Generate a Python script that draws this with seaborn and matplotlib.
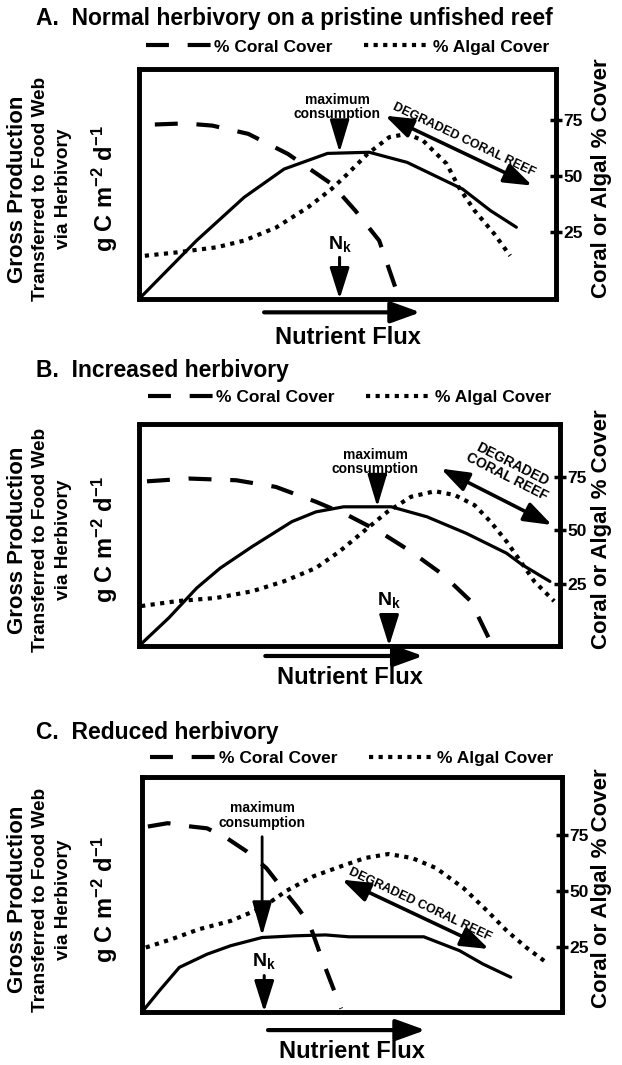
import matplotlib
matplotlib.use("Agg")
import numpy as np
import matplotlib.pyplot as plt
import seaborn as sns
from matplotlib.lines import Line2D

# values; x = nutrient flux (0-100 across the box)
# production on the left axis (0-100 = box bottom to top), cover in % on the right axis

# A. normal herbivory
a_prod_x = [0, 13.8, 25.2, 34.8, 45.2, 55.2, 64.3, 77.6, 84.3, 90.5]
a_prod_y = [0, 25.4, 44.2, 56.5, 63.3, 63.8, 59.4, 47.8, 38.4, 31.2]
a_coral_x = [3.8, 11.0, 17.6, 26.2, 35.7, 46.2, 51.9, 57.6, 62.4]
a_coral_y = [73.1, 73.6, 72.6, 68.9, 59.9, 46.4, 34.4, 21.0, -5.0]
a_algal_x = [1.4, 9.0, 18.6, 25.2, 32.9, 40.5, 46.2, 50.0, 54.8, 60.0, 64.3, 68.1, 73.8, 76.7, 80.5, 85.2, 89.0]
a_algal_y = [14.2, 15.7, 18.0, 21.0, 26.9, 35.9, 44.2, 50.9, 59.9, 67.4, 68.9, 65.9, 55.4, 44.9, 34.4, 24.0, 14.2]

# B. increased herbivory
b_prod_x = [0, 7.1, 13.7, 19.3, 26.9, 36.3, 42.0, 48.6, 59.9, 68.4, 77.8, 87.3, 91.0, 97.6]
b_prod_y = [0, 12.7, 26.1, 35.1, 44.8, 56.0, 60.4, 62.7, 62.7, 58.2, 50.7, 41.8, 36.6, 29.1]
b_coral_x = [1.9, 11.8, 23.1, 32.5, 42.0, 49.5, 57.1, 64.6, 72.2, 78.8, 84.0]
b_coral_y = [72.8, 74.1, 73.3, 70.2, 63.3, 57.1, 49.4, 40.1, 29.3, 17.0, -3.9]
b_algal_x = [0.5, 9.0, 18.4, 26.9, 34.4, 42.0, 47.6, 53.3, 59.0, 64.6, 70.3, 75.0, 79.7, 83.5, 87.3, 90.1, 93.9, 98.6]
b_algal_y = [14.7, 17.0, 18.5, 21.6, 26.2, 32.4, 40.1, 49.4, 58.6, 65.6, 68.2, 66.4, 61.7, 54.0, 44.8, 37.0, 26.2, 17.0]

# C. reduced herbivory
c_prod_x = [0, 4.2, 8.9, 15.5, 21.1, 28.6, 36.2, 43.7, 49.3, 60.6, 67.1, 75.6, 81.2, 87.8]
c_prod_y = [0, 9.2, 19.0, 24.6, 28.2, 31.7, 32.4, 32.8, 32.0, 32.0, 32.0, 26.1, 20.4, 14.8]
c_coral_x = [1.4, 6.1, 11.7, 15.5, 20.2, 24.9, 29.6, 33.3, 37.1, 39.9, 42.7, 47.4]
c_coral_y = [78.8, 80.3, 78.8, 78.0, 73.6, 67.7, 60.2, 51.3, 42.4, 35.0, 20.2, -2.8]
c_algal_x = [0.9, 7.0, 13.6, 21.1, 28.6, 34.3, 40.8, 47.4, 53.1, 58.7, 64.3, 70.0, 76.5, 82.2, 86.9, 91.5, 96.2]
c_algal_y = [24.6, 28.3, 32.8, 36.5, 42.4, 49.9, 56.5, 61.0, 64.7, 66.5, 64.7, 60.2, 51.3, 41.0, 32.0, 24.6, 18.0]

titles = ["A.  Normal herbivory on a pristine unfished reef",
          "B.  Increased herbivory",
          "C.  Reduced herbivory"]
cover_ticks = [25, 50, 75]
legend_labels = ["% Coral Cover", "% Algal Cover"]

sns.set_style("white")
plt.rcParams["font.family"] = ["Liberation Sans", "DejaVu Sans"]
plt.rcParams["text.color"] = "black"
plt.rcParams["axes.labelcolor"] = "black"
plt.rcParams["ytick.color"] = "black"
plt.rcParams["mathtext.fontset"] = "custom"
plt.rcParams["mathtext.rm"] = "Liberation Sans:bold"
plt.rcParams["mathtext.it"] = "Liberation Sans:bold"
plt.rcParams["mathtext.bf"] = "Liberation Sans:bold"

CORAL_LS = (0, (5.5, 4.5))
ALGAL_LS = (0, (1.0, 1.3))
FIG_H = 1065.0
FIG_W = 622.0


def draw_arrow(ax, start, end, style, hl, hw, lw):
    ax.annotate("", xy=end, xytext=start, annotation_clip=False,
                arrowprops=dict(arrowstyle=f"{style},head_length={hl},head_width={hw}",
                                color="black", lw=lw, shrinkA=0, shrinkB=0,
                                mutation_scale=1))


def disp_angle(ax, p0, p1):
    d0 = ax.transData.transform(p0)
    d1 = ax.transData.transform(p1)
    return np.degrees(np.arctan2(d1[1] - d0[1], d1[0] - d0[0]))


panels = [
    dict(box=(139, 69, 556, 299), cover_lim=(-5.2, 98.0),
         prod=(a_prod_x, a_prod_y), coral=(a_coral_x, a_coral_y), algal=(a_algal_x, a_algal_y),
         title=titles[0], title_y=18, legend_y=47,
         maxc_text=(47.6, 83.4), maxc_arrow=((48.1, 76.8), (48.1, 63.8)), maxc_hl=20,
         nk_x=48.1, nk_top=18.1, nk_text=23.9,
         deg=((59.0, 79.7), (94.3, 49.3)), deg_text="DEGRADED CORAL REEF", deg_off=9,
         deg_size=9, flux_y=-5.8, flux_text=-16.7),
    dict(box=(139, 424, 560, 646), cover_lim=(-3.9, 99.5),
         prod=(b_prod_x, b_prod_y), coral=(b_coral_x, b_coral_y), algal=(b_algal_x, b_algal_y),
         title=titles[1], title_y=370, legend_y=397,
         maxc_text=(56.1, 82.9), maxc_arrow=((56.6, 76.9), (56.6, 62.7)), maxc_hl=20,
         nk_x=59.4, nk_top=14.2, nk_text=20.9,
         deg=((71.7, 79.9), (98.1, 54.5)), deg_text="DEGRADED\nCORAL REEF", deg_off=21,
         deg_size=10, flux_y=-4.5, flux_text=-14.2),
    dict(box=(142, 777, 562, 1012), cover_lim=(-4.3, 101.0),
         prod=(c_prod_x, c_prod_y), coral=(c_coral_x, c_coral_y), algal=(c_algal_x, c_algal_y),
         title=titles[2], title_y=732, legend_y=758,
         maxc_text=(28.6, 83.5), maxc_arrow=((28.6, 74.6), (28.6, 32.4)), maxc_hl=21,
         nk_x=29.1, nk_top=15.5, nk_text=21.8,
         deg=((47.6, 56.3), (82.6, 26.8)), deg_text="DEGRADED CORAL REEF", deg_off=8,
         deg_size=9, flux_y=-7.7, flux_text=-16.9),
]

fig = plt.figure(figsize=(6.22, 10.65), dpi=100)

for p in panels:
    x0, y0, x1, y1 = p["box"]
    rect = [x0 / FIG_W, 1 - y1 / FIG_H, (x1 - x0) / FIG_W, (y1 - y0) / FIG_H]
    ax = fig.add_axes(rect)
    ax2 = ax.twinx()

    sns.lineplot(x=p["prod"][0], y=p["prod"][1], ax=ax, color="black", lw=2.3,
                 estimator=None, sort=False)
    sns.lineplot(x=p["coral"][0], y=p["coral"][1], ax=ax2, color="black", lw=3,
                 linestyle=CORAL_LS, estimator=None, sort=False)
    sns.lineplot(x=p["algal"][0], y=p["algal"][1], ax=ax2, color="black", lw=3,
                 linestyle=ALGAL_LS, estimator=None, sort=False)

    ax.set_xlim(0, 100)
    ax.set_ylim(0, 100)
    ax2.set_ylim(*p["cover_lim"])
    ax.set_xticks([])
    ax.set_yticks([])
    ax2.set_yticks(cover_ticks)
    ax2.tick_params(axis="y", direction="inout", length=9, width=2.5, pad=1,
                    labelsize=12.5, colors="black")
    for t in ax2.get_yticklabels():
        t.set_fontweight("bold")
    for a in (ax, ax2):
        a.set_xlabel("")
        a.set_ylabel("")
        for s in a.spines.values():
            s.set_linewidth(3.3)
            s.set_color("black")

    # legend above the box
    handles = [Line2D([], [], color="black", lw=3, linestyle=CORAL_LS),
               Line2D([], [], color="black", lw=3, linestyle=ALGAL_LS)]
    leg_y = (y1 - p["legend_y"]) / (y1 - y0)
    ax.legend(handles, legend_labels, ncol=2, loc="center", bbox_to_anchor=(0.5, leg_y),
              frameon=False, handlelength=3.8, handletextpad=0.15, columnspacing=1.8,
              prop=dict(weight="bold", size=12.5))

    # maximum consumption
    ax.text(*p["maxc_text"], "maximum\nconsumption", ha="center", va="center",
            fontsize=10, fontweight="bold", linespacing=1.05)
    draw_arrow(ax, p["maxc_arrow"][0], p["maxc_arrow"][1], "-|>", p["maxc_hl"], 6, 2)

    # N_k
    ax.text(p["nk_x"], p["nk_text"], r"N$_{\mathregular{k}}$", ha="center", va="center",
            fontsize=14, fontweight="bold")
    draw_arrow(ax, (p["nk_x"], p["nk_top"]), (p["nk_x"], 0), "-|>", 19, 6, 2.2)

    # degraded coral reef
    (dx0, dy0), (dx1, dy1) = p["deg"]
    draw_arrow(ax, (dx0, dy0), (dx1, dy1), "<|-|>", 17, 6, 2.6)
    ang = disp_angle(ax, (dx0, dy0), (dx1, dy1))
    th = np.radians(ang)
    off = p["deg_off"]
    ax.annotate(p["deg_text"], xy=((dx0 + dx1) / 2, (dy0 + dy1) / 2),
                xytext=(-off * np.sin(th), off * np.cos(th)), textcoords="offset points",
                rotation=ang, rotation_mode="anchor", ha="center", va="center",
                fontsize=p["deg_size"], fontweight="bold", linespacing=1.0,
                annotation_clip=False)

    # nutrient flux
    draw_arrow(ax, (30.0, p["flux_y"]), (67.5, p["flux_y"]), "-|>", 18, 6.5, 3)
    ax.text(50, p["flux_text"], "Nutrient Flux", ha="center", va="center",
            fontsize=17, fontweight="bold", clip_on=False)

    # titles and axis labels
    fig.text(36 / FIG_W, 1 - p["title_y"] / FIG_H, p["title"], ha="left", va="center",
             fontsize=16.5, fontweight="bold")
    yc = 1 - ((y0 + y1) / 2 + 5) / FIG_H
    fig.text(18 / FIG_W, yc, "Gross Production", rotation=90, ha="center", va="center",
             fontsize=16, fontweight="bold")
    fig.text(41 / FIG_W, yc, "Transferred to Food Web", rotation=90, ha="center",
             va="center", fontsize=13.7, fontweight="bold")
    fig.text(63 / FIG_W, yc, "via Herbivory", rotation=90, ha="center", va="center",
             fontsize=13.7, fontweight="bold")
    fig.text(105 / FIG_W, yc, r"g C m$^{-2}$ d$^{-1}$", rotation=90, ha="center",
             va="center", fontsize=17, fontweight="bold")
    fig.text(602 / FIG_W, 1 - ((y0 + y1) / 2 - 6) / FIG_H, "Coral or Algal % Cover",
             rotation=90, ha="center", va="center", fontsize=16, fontweight="bold")

fig.savefig("out.png", dpi=100)
